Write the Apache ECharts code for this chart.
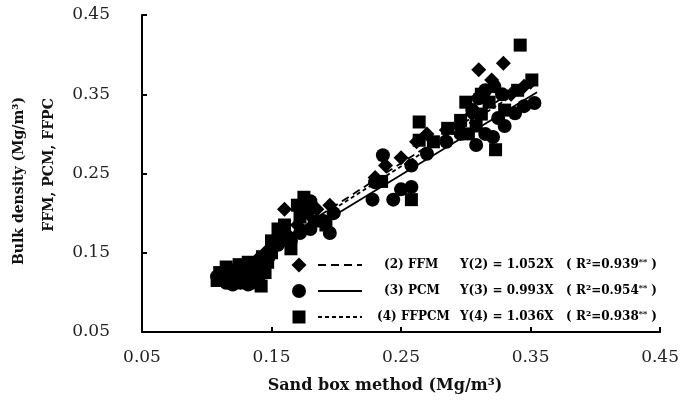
<!DOCTYPE html>
<html>
<head>
<meta charset="utf-8">
<script src="https://cdn.jsdelivr.net/npm/echarts@6/dist/echarts.min.js"></script>
<style>html,body{margin:0;padding:0;background:#fff;}#c{width:682px;height:401px;}</style>
</head>
<body>
<div id="c"></div>
<script>
// ---- data ----
var xTicks = [0.05, 0.15, 0.25, 0.35, 0.45];
var yTicks = [0.05, 0.15, 0.25, 0.35, 0.45];
var seriesNames = ['(2) FFM', '(3) PCM', '(4) FFPCM'];
var ffm = [[0.118,0.128],[0.125,0.122],[0.13,0.133],[0.138,0.14],[0.145,0.15],[0.152,0.162],[0.16,0.205],[0.163,0.172],[0.17,0.185],[0.178,0.2],[0.185,0.205],[0.195,0.21],[0.23,0.245],[0.238,0.26],[0.25,0.27],[0.262,0.29],[0.27,0.3],[0.285,0.305],[0.295,0.31],[0.305,0.325],[0.31,0.381],[0.32,0.368],[0.329,0.389],[0.335,0.35],[0.345,0.36],[0.35,0.365]];
var pcm = [[0.108,0.12],[0.112,0.122],[0.115,0.112],[0.12,0.11],[0.12,0.117],[0.126,0.112],[0.128,0.125],[0.132,0.11],[0.135,0.13],[0.14,0.125],[0.142,0.135],[0.148,0.145],[0.155,0.16],[0.158,0.175],[0.165,0.165],[0.172,0.175],[0.18,0.18],[0.18,0.215],[0.19,0.19],[0.195,0.175],[0.198,0.2],[0.228,0.217],[0.23,0.239],[0.236,0.273],[0.244,0.217],[0.25,0.23],[0.258,0.233],[0.258,0.26],[0.27,0.275],[0.285,0.29],[0.296,0.3],[0.305,0.33],[0.308,0.286],[0.31,0.345],[0.315,0.3],[0.315,0.355],[0.321,0.296],[0.322,0.36],[0.325,0.32],[0.328,0.35],[0.33,0.31],[0.338,0.326],[0.345,0.335],[0.353,0.339]];
var ffpcm = [[0.108,0.115],[0.11,0.125],[0.112,0.118],[0.115,0.132],[0.118,0.128],[0.123,0.12],[0.125,0.135],[0.13,0.128],[0.132,0.138],[0.135,0.115],[0.137,0.122],[0.14,0.112],[0.142,0.108],[0.143,0.145],[0.145,0.125],[0.147,0.138],[0.15,0.15],[0.15,0.165],[0.155,0.18],[0.158,0.17],[0.16,0.185],[0.165,0.155],[0.17,0.21],[0.172,0.195],[0.175,0.22],[0.178,0.21],[0.183,0.19],[0.192,0.185],[0.235,0.24],[0.258,0.217],[0.264,0.292],[0.264,0.315],[0.275,0.29],[0.286,0.307],[0.296,0.317],[0.3,0.34],[0.302,0.3],[0.308,0.31],[0.312,0.325],[0.312,0.35],[0.318,0.34],[0.323,0.28],[0.33,0.33],[0.34,0.355],[0.342,0.412],[0.351,0.368]];
var slopes = [1.052, 0.993, 1.036];
var r2 = ['0.939', '0.954', '0.938'];
var fitRange = [0.12, 0.355];
// ---- chart ----
var chart = echarts.init(document.getElementById('c'));
var serif = 'DejaVu Serif';
function fitLine(k){ return [[fitRange[0], fitRange[0]*k],[fitRange[1], fitRange[1]*k]]; }
var dashes = [[8,5], 'solid', [4,3]];
var symbols = ['diamond','circle','rect'];
var sizes = [15, 14, 13];
var datasets = [ffm, pcm, ffpcm];
var series = [];
for (var i=0;i<3;i++){
  series.push({type:'scatter', name:seriesNames[i], data:datasets[i], symbol:symbols[i], symbolSize:sizes[i],
    itemStyle:{color:'#000', opacity:1}, silent:true, z:2});
  series.push({type:'line', data:fitLine(slopes[i]), symbol:'none', silent:true, z:3,
    lineStyle:{color:'#000', width:1.8, type:dashes[i]}});
}
// legend block built from graphic elements
var lgX = 299, lgY = [265, 291, 317], lblX = [384, 384, 377];
var graphic = [];
for (var j=0;j<3;j++){
  var y = lgY[j];
  if (j===0) graphic.push({type:'polygon', shape:{points:[[lgX,y-7.5],[lgX+7.5,y],[lgX,y+7.5],[lgX-7.5,y]]}, style:{fill:'#000'}});
  if (j===1) graphic.push({type:'circle', shape:{cx:lgX, cy:y, r:7}, style:{fill:'#000'}});
  if (j===2) graphic.push({type:'rect', shape:{x:lgX-6.5, y:y-6.5, width:13, height:13}, style:{fill:'#000'}});
  graphic.push({type:'line', shape:{x1:318, y1:y, x2:362, y2:y}, style:{stroke:'#000', lineWidth:1.8, lineDash: dashes[j]==='solid'?null:dashes[j]}});
  graphic.push({type:'text', x:lblX[j], y:y, style:{text:seriesNames[j], font:'bold 12px "DejaVu Serif"', fill:'#000', verticalAlign:'middle'}});
  graphic.push({type:'text', x:460, y:y, style:{
    text:'{a|Y(' + (j+2) + ') = ' + slopes[j].toFixed(3) + 'X   ( R²=' + r2[j] + '}{s|**}{a| )}',
    rich:{a:{font:'bold 12px "DejaVu Serif"', fill:'#000'}, s:{font:'bold 8px "DejaVu Serif"', fill:'#000', verticalAlign:'top', padding:[0,0,6,0]}},
    verticalAlign:'middle'}});
}
graphic.push({type:'text', x:385, y:386, style:{text:'Sand box method (Mg/m³)', font:'bold 16px "DejaVu Serif"', fill:'#111', align:'center', verticalAlign:'middle'}});
graphic.push({type:'text', x:19, y:181, rotation:Math.PI/2, style:{text:'Bulk density (Mg/m³)', font:'bold 14px "DejaVu Serif"', fill:'#111', align:'center', verticalAlign:'middle'}});
graphic.push({type:'text', x:49, y:165, rotation:Math.PI/2, style:{text:'FFM, PCM, FFPC', font:'bold 14px "DejaVu Serif"', fill:'#111', align:'center', verticalAlign:'middle'}});

chart.setOption({
  animation:false,
  backgroundColor:'#fff',
  grid:{left:142, right:13, top:15, bottom:69, containLabel:false},
  xAxis:{type:'value', min:xTicks[0], max:xTicks[xTicks.length-1], interval:0.1,
    axisLine:{show:true, lineStyle:{color:'#000', width:2}},
    axisTick:{show:true, inside:true, length:5, lineStyle:{color:'#000', width:2}},
    splitLine:{show:false},
    axisLabel:{margin:17, fontFamily:serif, fontSize:17, color:'#222', formatter:function(v){return v.toFixed(2);}}},
  yAxis:{type:'value', min:yTicks[0], max:yTicks[yTicks.length-1], interval:0.1,
    axisLine:{show:true, lineStyle:{color:'#000', width:2}},
    axisTick:{show:true, inside:true, length:5, lineStyle:{color:'#000', width:2}},
    splitLine:{show:false},
    axisLabel:{margin:32, fontFamily:serif, fontSize:17, color:'#222', formatter:function(v){return v.toFixed(2);}}},
  series:series,
  graphic:graphic
});
</script>
</body>
</html>
